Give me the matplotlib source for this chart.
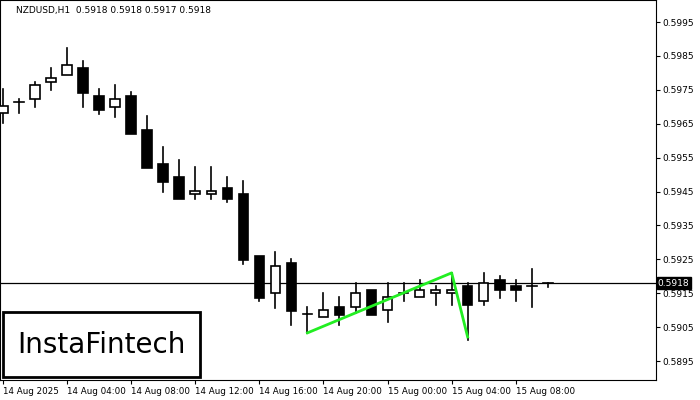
import matplotlib
matplotlib.use("Agg")
import matplotlib.pyplot as plt
from matplotlib.patches import Rectangle

opens = [0.59682,0.59714,0.59723,0.59773,0.59794,0.59814,0.59732,0.59699,0.59732,0.59631,
         0.59531,0.59493,0.59443,0.59443,0.59460,0.59443,0.59260,0.59150,0.59239,0.59089,
         0.59080,0.59109,0.59109,0.59159,0.59100,0.59150,0.59139,0.59150,0.59150,0.59171,
         0.59127,0.59189,0.59171,0.59171,0.59180]
closes = [0.59702,0.59714,0.59764,0.59785,0.59823,0.59741,0.59690,0.59723,0.59620,0.59519,
          0.59478,0.59428,0.59451,0.59451,0.59428,0.59248,0.59136,0.59230,0.59097,0.59089,
          0.59100,0.59086,0.59150,0.59086,0.59139,0.59150,0.59159,0.59159,0.59159,0.59115,
          0.59180,0.59159,0.59159,0.59171,0.59180]
highs = [0.59752,0.59723,0.59773,0.59814,0.59873,0.59835,0.59752,0.59764,0.59743,0.59673,
         0.59581,0.59543,0.59522,0.59522,0.59493,0.59481,0.59260,0.59271,0.59251,0.59109,
         0.59150,0.59139,0.59180,0.59159,0.59180,0.59180,0.59189,0.59171,0.59210,0.59180,
         0.59210,0.59201,0.59189,0.59221,0.59180]
lows = [0.59652,0.59682,0.59699,0.59749,0.59794,0.59699,0.59679,0.59670,0.59620,0.59519,
        0.59448,0.59428,0.59428,0.59428,0.59419,0.59236,0.59127,0.59106,0.59056,0.59033,
        0.59080,0.59056,0.59092,0.59086,0.59065,0.59127,0.59139,0.59115,0.59115,0.59012,
        0.59115,0.59136,0.59127,0.59109,0.59168]
pattern_x = [19, 28, 29]
pattern_y = [0.59033, 0.59210, 0.59021]
current = 0.5918
price_ticks = [0.5895,0.5905,0.5915,0.5925,0.5935,0.5945,0.5955,0.5965,0.5975,0.5985,0.5995]
time_idx = [0,4,8,12,16,20,24,28,32]
time_labels = ["14 Aug 2025","14 Aug 04:00","14 Aug 08:00","14 Aug 12:00","14 Aug 16:00",
               "14 Aug 20:00","15 Aug 00:00","15 Aug 04:00","15 Aug 08:00"]

fig = plt.figure(figsize=(7,4), dpi=100)
ax = fig.add_axes([0.0, 0.05, 0.937, 0.95])
ax.set_xlim(-0.19, 40.75)
ax.set_ylim(0.58894, 0.60015)
w = 0.6
for i,(o,c,h,l) in enumerate(zip(opens,closes,highs,lows)):
    lo, hi = min(o,c), max(o,c)
    ax.plot([i,i],[l,lo],color='black',lw=1.2,zorder=2)
    ax.plot([i,i],[hi,h],color='black',lw=1.2,zorder=2)
    if hi-lo < 1e-6:
        ax.plot([i-w/2,i+w/2],[o,o],color='black',lw=1.2,zorder=3)
    else:
        ax.add_patch(Rectangle((i-w/2,lo),w,hi-lo,facecolor='black' if c<o else 'white',
                               edgecolor='black',lw=1.2,zorder=3))
ax.axhline(current,color='black',lw=0.9,zorder=1)
ax.plot(pattern_x,pattern_y,color='#22ee22',lw=2,zorder=4)

ax.yaxis.tick_right()
ax.set_yticks(price_ticks)
ax.set_yticklabels([f"{t:.4f}" for t in price_ticks],fontsize=6.5)
ax.set_xticks(time_idx)
ax.set_xticklabels(time_labels,fontsize=6.3,ha='left')
ax.tick_params(axis='both',length=3,pad=2)
ax.text(1.003,current,f"{current:.4f}",transform=ax.get_yaxis_transform(),fontsize=6.5,
        color='white',va='center',ha='left',
        bbox=dict(boxstyle='square,pad=0.15',fc='black',ec='black'))
ax.text(0.025,0.985,"NZDUSD,H1  0.5918 0.5918 0.5917 0.5918",transform=ax.transAxes,
        fontsize=6.5,va='top')
fig.patches.append(Rectangle((3/700,23/400),197/700,65/400,transform=fig.transFigure,
                             fc='white',ec='black',lw=2,zorder=10))
fig.text(101/700,55/400,"InstaFintech",fontsize=20,va='center',ha='center',zorder=11)
fig.savefig("out.png",dpi=100)
